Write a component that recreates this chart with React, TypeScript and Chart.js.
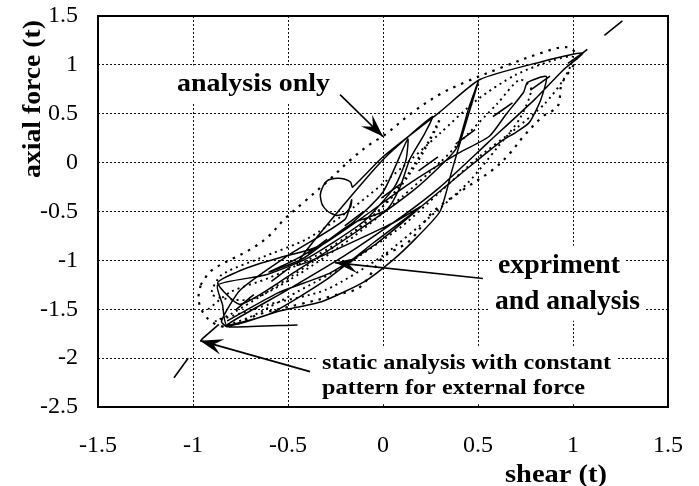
import React, { useEffect, useRef } from 'react';
import { Chart, registerables } from 'chart.js';

Chart.register(...registerables);

// Axis ticks
const X_TICK_VALUES = [-1.5, -1, -0.5, 0, 0.5, 1, 1.5];
const X_TICK_LABELS = ['-1.5', '-1', '-0.5', '0', '0.5', '1', '1.5'];
const Y_TICK_VALUES = [-2.5, -2, -1.5, -1, -0.5, 0, 0.5, 1, 1.5];
const Y_TICK_LABELS = ['-2.5', '-2', '-1.5', '-1', '-0.5', '0', '0.5', '1', '1.5'];

const X_TITLE = 'shear (t)';
const Y_TITLE = 'axial force (t)';

// Experiment: shear / axial force hysteresis, in tonnes
const EXPERIMENT: [number, number][] = [
  [-0.82, -1.62], [-0.55, -1.33], [-0.28, -1.13], [-0.05, -0.85], [0.2, -0.45],
  [0.05, -0.62], [-0.45, -1.05], [-0.33, -0.72], [0.0, 0.03], [0.26, 0.47], [0.22, 0.3],
  [0.14, 0.03], [0.09, -0.25], [0.02, -0.48], [-0.17, -0.63], [-0.42, -0.98],
  [-0.6, -1.12], [-0.45, -0.98], [-0.2, -0.68], [0.0, -0.3], [0.13, 0.24],
  [0.12, 0.02], [0.06, -0.25], [-0.1, -0.6], [-0.4, -0.98], [-0.62, -1.15],
  [-0.87, -1.25], [-0.845, -1.45], [-0.82, -1.67], [-0.55, -1.52], [-0.32, -1.42],
  [-0.1, -1.22], [0.05, -1.0], [0.17, -0.78], [0.3, -0.5], [0.36, -0.1],
  [0.42, 0.3], [0.5, 0.82], [0.45, 0.55], [0.39, 0.16], [0.33, 0.02],
  [0.15, -0.3], [-0.15, -0.72], [-0.45, -1.1], [-0.75, -1.45], [-0.87, -1.23],
  [-0.77, -1.12], [-0.66, -1.04], [-0.54, -0.97], [-0.42, -0.91], [-0.32, -0.84],
  [-0.1, -0.55], [0.15, -0.2], [0.4, 0.1], [0.56, 0.27], [0.65, 0.5],
  [0.74, 0.72], [0.76, 0.82], [0.86, 0.88], [0.83, 0.64], [0.77, 0.41],
  [0.7, 0.31], [0.63, 0.23], [0.45, -0.05], [0.2, -0.45], [-0.05, -0.82],
  [-0.3, -1.2], [-0.6, -1.55], [-0.82, -1.66], [-0.5, -1.3], [-0.2, -0.95],
  [0.1, -0.55], [0.3, -0.25], [0.55, 0.2], [0.8, 0.65], [0.95, 0.95],
  [1.05, 1.12], [0.83, 1.03], [0.51, 0.85], [0.3, 0.52], [0.0, 0.06],
  [-0.16, -0.25], [-0.17, -0.2], [-0.2, -0.17], [-0.24, -0.16], [-0.29, -0.18],
  [-0.315, -0.24], [-0.33, -0.33], [-0.32, -0.43], [-0.29, -0.5], [-0.245, -0.54],
  [-0.2, -0.52], [-0.17, -0.45], [-0.165, -0.38], [-0.2, -0.58], [-0.5, -0.95],
  [-0.75, -1.3], [-0.85, -1.62], [-0.82, -1.68], [-0.45, -1.66],
];

// Dynamic analysis under the same excitation
const ANALYSIS: [number, number][] = [
  [-0.92, -1.5], [-0.8, -1.32], [-0.6, -1.18], [-0.35, -0.95], [-0.15, -0.7],
  [0.05, -0.35], [0.18, 0.0], [0.28, 0.35], [0.3, 0.45], [0.24, 0.22],
  [0.12, -0.15], [-0.05, -0.55], [-0.3, -0.92], [-0.55, -1.25], [-0.8, -1.55],
  [-0.88, -1.62], [-0.6, -1.45], [-0.3, -1.3], [0.0, -0.95], [0.25, -0.55],
  [0.45, -0.2], [0.6, 0.15], [0.72, 0.45], [0.78, 0.75], [0.72, 0.85],
  [0.6, 0.6], [0.45, 0.3], [0.3, 0.0], [0.1, -0.35], [-0.15, -0.75],
  [-0.45, -1.15], [-0.7, -1.4], [-0.9, -1.35], [-0.85, -1.15], [-0.65, -0.98],
  [-0.4, -0.78], [-0.15, -0.45], [0.1, -0.05], [0.3, 0.3], [0.5, 0.65],
  [0.7, 0.9], [0.9, 1.05], [1.0, 1.08], [0.95, 0.85], [0.85, 0.6],
  [0.7, 0.35], [0.5, 0.05], [0.3, -0.3], [0.1, -0.65], [-0.2, -1.05],
  [-0.45, -1.32], [-0.7, -1.58], [-0.85, -1.68],
];

// Analysis-only envelope
const ANALYSIS_ONLY: [number, number][] = [
  [-0.96, -1.25], [-0.9, -1.1], [-0.7, -0.89], [-0.6, -0.75], [-0.52, -0.58],
  [-0.42, -0.41], [-0.28, -0.17], [-0.17, 0.03], [-0.06, 0.2], [0.0, 0.27],
  [0.16, 0.52], [0.3, 0.7], [0.43, 0.82], [0.62, 0.97], [0.83, 1.12],
  [0.97, 1.18], [1.02, 1.08], [0.94, 0.8], [0.92, 0.58], [0.84, 0.47],
  [0.74, 0.27], [0.67, 0.1], [0.58, -0.07], [0.42, -0.28], [0.26, -0.51],
  [0.14, -0.8], [0.0, -0.97], [-0.12, -1.27], [-0.26, -1.36], [-0.44, -1.45],
  [-0.65, -1.55], [-0.82, -1.68], [-0.92, -1.6], [-0.97, -1.42], [-0.96, -1.25],
];

// Static analysis, constant external force pattern
const STATIC_PATH: [number, number][] = [
  [-1.1, -2.2], [-0.95, -1.8], [-0.7, -1.38], [0.0, -0.35], [0.6, 0.5],
  [1.05, 1.12], [1.26, 1.45],
];

// Callouts: text lines anchored at (x, y) in data units, arrows from tail to tip
const NOTE_LINES = [
  { text: 'analysis only', x: -1.084, y: 0.737, width: 153, size: 25 },
  { text: 'expriment', x: 0.605, y: -1.125, width: 122, size: 27 },
  { text: 'and analysis', x: 0.589, y: -1.494, width: 145, size: 27 },
  { text: 'static analysis with constant', x: -0.321, y: -2.107, width: 289, size: 22 },
  { text: 'pattern for external force', x: -0.321, y: -2.363, width: 263, size: 22 },
];
const NOTE_ARROWS: [number, number, number, number][] = [
  [-0.226, 0.696, 0.0, 0.266],
  [0.526, -1.186, -0.253, -1.023],
  [-0.384, -2.138, -0.963, -1.821],
];

const SERIF = '"Liberation Serif", "Times New Roman", serif';

const toPoints = (arr: [number, number][]) => arr.map(([x, y]) => ({ x, y }));

function fitText(ctx: CanvasRenderingContext2D, text: string, x: number, y: number, width: number) {
  const w = ctx.measureText(text).width;
  ctx.save();
  ctx.translate(x, y);
  ctx.scale(width / w, 1);
  ctx.fillText(text, 0, 0);
  ctx.restore();
}

function drawArrow(ctx: CanvasRenderingContext2D, x0: number, y0: number, x1: number, y1: number) {
  ctx.beginPath();
  ctx.moveTo(x0, y0);
  ctx.lineTo(x1, y1);
  ctx.stroke();
  const ang = Math.atan2(y1 - y0, x1 - x0);
  ctx.save();
  ctx.translate(x1, y1);
  ctx.rotate(ang);
  ctx.beginPath();
  ctx.moveTo(0, 0);
  ctx.lineTo(-23, -8);
  ctx.lineTo(-14, 0);
  ctx.lineTo(-23, 8);
  ctx.closePath();
  ctx.fill();
  ctx.restore();
}

const notesPlugin = {
  id: 'notes',
  afterDatasetsDraw(chart: any) {
    const { ctx, chartArea: a, scales } = chart;
    const sx = scales.x;
    const sy = scales.y;
    ctx.save();
    ctx.textBaseline = 'alphabetic';
    ctx.textAlign = 'left';

    // white panels behind callout text
    for (const n of NOTE_LINES) {
      const px = sx.getPixelForValue(n.x);
      const py = sy.getPixelForValue(n.y);
      ctx.fillStyle = '#fff';
      ctx.fillRect(px - 6, py - n.size * 0.85 - 4, n.width + 12, n.size * 1.15 + 8);
    }
    ctx.fillStyle = '#000';
    for (const n of NOTE_LINES) {
      const px = sx.getPixelForValue(n.x);
      const py = sy.getPixelForValue(n.y);
      ctx.font = `bold ${n.size}px ${SERIF}`;
      fitText(ctx, n.text, px, py, n.width);
    }

    ctx.strokeStyle = '#000';
    ctx.lineWidth = 1.6;
    for (const [x0, y0, x1, y1] of NOTE_ARROWS) {
      drawArrow(
        ctx,
        sx.getPixelForValue(x0), sy.getPixelForValue(y0),
        sx.getPixelForValue(x1), sy.getPixelForValue(y1),
      );
    }

    // plot frame
    ctx.lineWidth = 2;
    ctx.strokeRect(a.left, a.top, a.right - a.left, a.bottom - a.top);

    // axis titles
    ctx.font = `bold 26px ${SERIF}`;
    ctx.save();
    ctx.translate(a.left - 58, a.top + 162);
    ctx.rotate(-Math.PI / 2);
    fitText(ctx, Y_TITLE, 0, 0, 158);
    ctx.restore();
    fitText(ctx, X_TITLE, a.right - 163, a.bottom + 75, 102);

    ctx.restore();
  },
};

export default function App() {
  const ref = useRef<HTMLCanvasElement | null>(null);

  useEffect(() => {
    document.body.style.margin = '0';
    const canvas = ref.current;
    if (!canvas) return;

    const lineBase = {
      showLine: true,
      pointRadius: 0,
      pointHoverRadius: 0,
      fill: false,
      borderColor: '#000',
      backgroundColor: '#000',
    };

    const chart = new Chart(canvas, {
      type: 'scatter',
      data: {
        datasets: [
          {
            ...lineBase,
            label: 'static analysis',
            data: toPoints(STATIC_PATH),
            borderWidth: 1.6,
            borderDash: [24, 22],
            tension: 0,
          },
          {
            ...lineBase,
            label: 'analysis only',
            data: toPoints(ANALYSIS_ONLY),
            borderWidth: 2.2,
            borderDash: [2.5, 6],
            tension: 0.35,
          },
          {
            ...lineBase,
            label: 'analysis',
            data: toPoints(ANALYSIS),
            borderWidth: 1.9,
            borderDash: [2, 4],
            tension: 0.25,
          },
          {
            ...lineBase,
            label: 'experiment',
            data: toPoints(EXPERIMENT),
            borderWidth: 1.5,
            tension: 0.2,
          },
        ],
      },
      plugins: [notesPlugin],
      options: {
        animation: false,
        responsive: false,
        devicePixelRatio: 1,
        layout: { padding: { top: 16, right: 31, left: 0, bottom: 0 } },
        plugins: {
          legend: { display: false },
          tooltip: { enabled: false },
        },
        scales: {
          x: {
            type: 'linear',
            min: -1.5,
            max: 1.5,
            afterBuildTicks: (scale: any) => {
              scale.ticks = X_TICK_VALUES.map((value) => ({ value }));
            },
            afterFit: (scale: any) => {
              scale.height = 79;
              scale.paddingLeft = 0;
              scale.paddingRight = 0;
            },
            ticks: {
              callback: (_v: any, i: number) => X_TICK_LABELS[i],
              font: { family: SERIF, size: 24 },
              color: '#000',
              padding: 24,
              maxRotation: 0,
              autoSkip: false,
            },
            grid: { color: '#111', lineWidth: 1, drawTicks: false },
            border: { display: false, dash: [2, 2] },
          },
          y: {
            type: 'linear',
            min: -2.5,
            max: 1.5,
            afterBuildTicks: (scale: any) => {
              scale.ticks = Y_TICK_VALUES.map((value) => ({ value }));
            },
            afterFit: (scale: any) => {
              scale.width = 98;
              scale.paddingTop = 0;
              scale.paddingBottom = 0;
            },
            ticks: {
              callback: (_v: any, i: number) => Y_TICK_LABELS[i],
              font: { family: SERIF, size: 24 },
              color: '#000',
              padding: 20,
              autoSkip: false,
            },
            grid: { color: '#111', lineWidth: 1, drawTicks: false },
            border: { display: false, dash: [2, 2] },
          },
        },
      },
    } as any);

    return () => chart.destroy();
  }, []);

  return <canvas ref={ref} width={699} height={486} style={{ display: 'block' }} />;
}
